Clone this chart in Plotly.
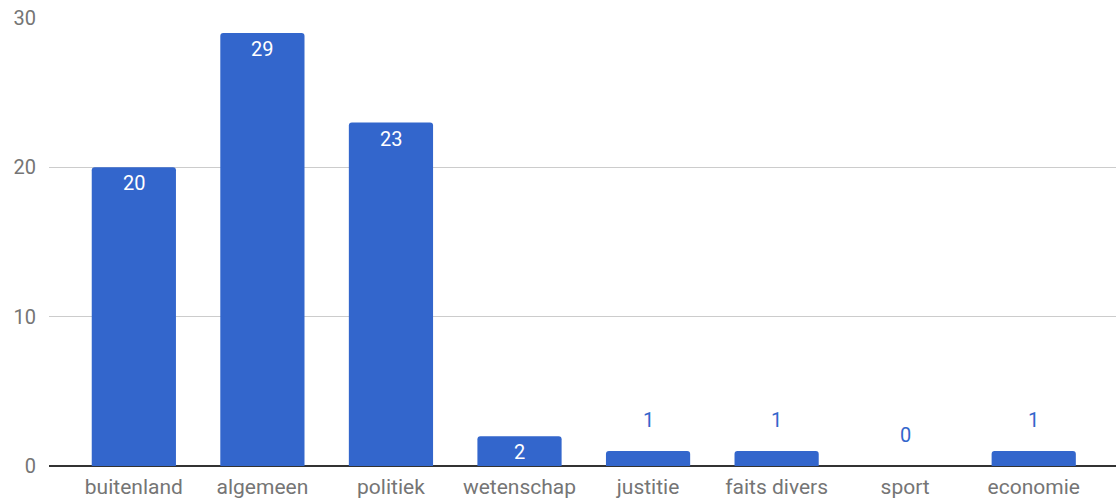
import plotly.graph_objects as go

categories = ["buitenland", "algemeen", "politiek", "wetenschap", "justitie", "faits divers", "sport", "economie"]
values = [20, 29, 23, 2, 1, 1, 0, 1]
y_ticks = [0, 10, 20, 30]

BAR = "#3366cc"
FONT = "Roboto"

fig = go.Figure()
fig.add_trace(go.Bar(
    x=categories, y=values, marker=dict(color=BAR, line=dict(width=0)),
    hoverinfo="x+y",
))

annotations = []
for c, v in zip(categories, values):
    inside = v >= 2
    annotations.append(dict(
        x=c, y=v, xref="x", yref="y", text=str(v), showarrow=False,
        yshift=-16 if inside else 31,
        font=dict(family=FONT, size=20, color="white" if inside else BAR),
    ))

fig.update_layout(
    width=1116, height=503,
    margin=dict(l=49, r=0, t=18, b=37),
    paper_bgcolor="white", plot_bgcolor="white",
    bargap=0.345, barcornerradius=3,
    showlegend=False,
    font=dict(family=FONT, size=20, color="#757575"),
    annotations=annotations,
    xaxis=dict(
        range=[-0.66, 7.64], showgrid=False, showline=False, ticks="",
        tickfont=dict(family=FONT, size=21, color="#757575"),
        ticklabelstandoff=6,
    ),
    yaxis=dict(
        range=[0, 30], tickvals=y_ticks, showgrid=True, gridcolor="#cccccc", gridwidth=1,
        zeroline=True, zerolinecolor="#333333", zerolinewidth=1.5,
        showline=False, ticks="",
        tickfont=dict(family=FONT, size=20, color="#757575"),
        ticklabelstandoff=12,
    ),
)

fig.write_html("out.html")
